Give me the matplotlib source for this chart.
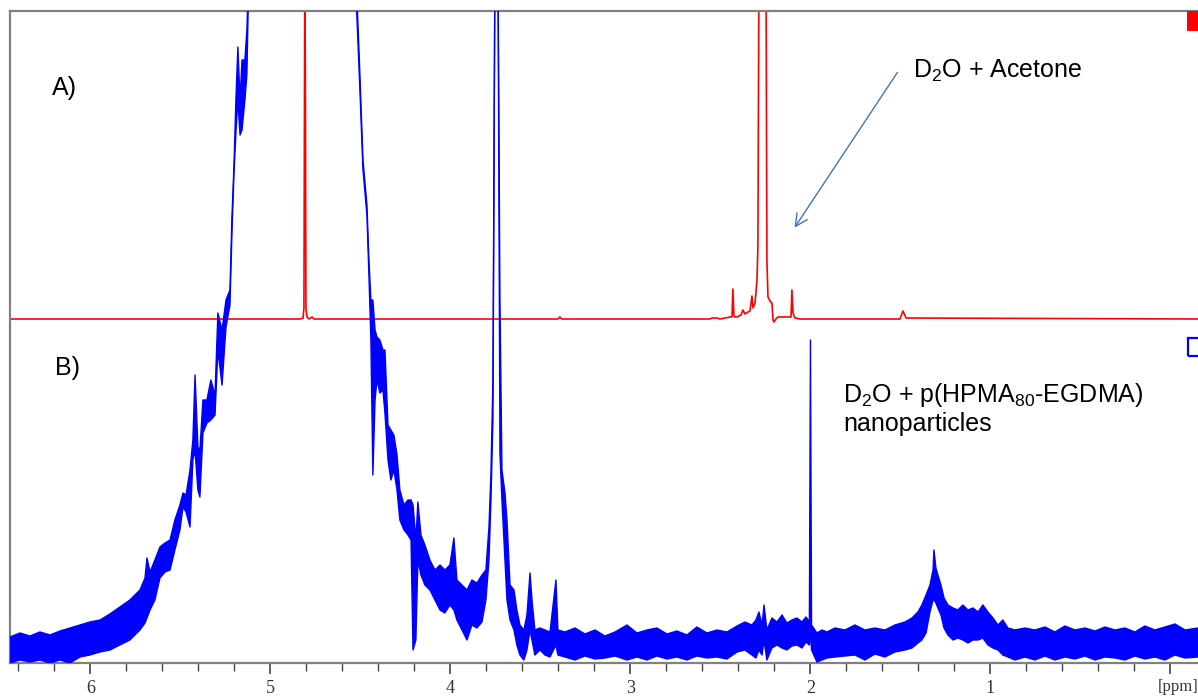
import matplotlib
matplotlib.use("Agg")
import matplotlib.pyplot as plt
from matplotlib.ticker import FixedLocator, MultipleLocator
from matplotlib.patches import Rectangle

plt.rcParams['font.family'] = ['Liberation Sans', 'DejaVu Sans']
plt.rcParams['mathtext.fontset'] = 'custom'
plt.rcParams['mathtext.rm'] = 'Liberation Sans'
plt.rcParams['mathtext.it'] = 'Liberation Sans:italic'

# Spectrum B: D2O + nanoparticles (noisy trace, stored as upper/lower envelope, a.u.)
blue_ppm = [6.447, 6.392, 6.336, 6.281, 6.225, 6.169, 6.114, 6.058, 6.003, 5.947,
            5.892, 5.836, 5.781, 5.725, 5.697, 5.686, 5.669, 5.642, 5.614, 5.586,
            5.558, 5.531, 5.503, 5.486, 5.469, 5.447, 5.431, 5.419, 5.403, 5.392,
            5.375, 5.353, 5.331, 5.308, 5.292, 5.269, 5.247, 5.225, 5.214, 5.203,
            5.192, 5.181, 5.169, 5.158, 5.142, 5.131, 5.119, 4.836, 4.531, 4.519,
            4.503, 4.486, 4.464, 4.453, 4.442, 4.431, 4.419, 4.408, 4.392, 4.375,
            4.364, 4.347, 4.331, 4.314, 4.297, 4.281, 4.258, 4.236, 4.219, 4.208,
            4.192, 4.181, 4.164, 4.142, 4.114, 4.086, 4.058, 4.031, 4.003, 3.981,
            3.964, 3.936, 3.908, 3.881, 3.853, 3.825, 3.803, 3.786, 3.775, 3.764,
            3.753, 3.736, 3.725, 3.714, 3.697, 3.686, 3.669, 3.647, 3.631, 3.614,
            3.592, 3.575, 3.558, 3.547, 3.531, 3.503, 3.475, 3.447, 3.414, 3.403,
            3.364, 3.308, 3.253, 3.197, 3.142, 3.086, 3.019, 2.964, 2.908, 2.853,
            2.797, 2.742, 2.686, 2.631, 2.575, 2.519, 2.464, 2.408, 2.364, 2.325,
            2.303, 2.286, 2.269, 2.258, 2.242, 2.214, 2.186, 2.158, 2.131, 2.103,
            2.075, 2.047, 2.025, 2.006, 2.000, 1.994, 1.964, 1.936, 1.908, 1.864,
            1.808, 1.753, 1.697, 1.642, 1.586, 1.531, 1.475, 1.436, 1.403, 1.381,
            1.358, 1.336, 1.319, 1.314, 1.303, 1.292, 1.275, 1.258, 1.236, 1.208,
            1.181, 1.153, 1.125, 1.097, 1.069, 1.042, 1.014, 0.986, 0.958, 0.931,
            0.903, 0.864, 0.808, 0.753, 0.697, 0.642, 0.586, 0.531, 0.475, 0.419,
            0.364, 0.308, 0.253, 0.197, 0.142, 0.086, 0.031, -0.025, -0.081, -0.153]
blue_hi = [26, 30, 27, 31, 28, 32, 35, 38, 41, 43,
           49, 56, 63, 73, 85, 105, 91, 103, 116, 120,
           123, 143, 158, 170, 168, 193, 223, 288, 216, 213,
           263, 263, 283, 268, 350, 333, 363, 373, 446, 496,
           563, 616, 563, 603, 603, 633, 700, 700, 700, 663,
           588, 503, 458, 403, 363, 363, 333, 326, 323, 313,
           313, 238, 233, 228, 208, 173, 158, 163, 163, 158,
           123, 161, 128, 118, 103, 93, 98, 93, 98, 125,
           83, 78, 73, 83, 80, 88, 93, 136, 190, 283,
           700, 700, 363, 193, 170, 143, 78, 73, 53, 38,
           33, 48, 90, 63, 33, 35, 33, 31, 83, 33,
           31, 35, 29, 33, 27, 31, 38, 30, 33, 35,
           29, 32, 28, 36, 30, 33, 31, 37, 41, 38,
           43, 51, 38, 58, 33, 45, 41, 48, 40, 43,
           45, 41, 46, 41, 323, 38, 30, 33, 31, 35,
           33, 38, 33, 35, 33, 38, 41, 45, 51, 58,
           68, 78, 93, 113, 95, 88, 78, 65, 58, 55,
           53, 58, 53, 55, 51, 58, 51, 45, 38, 43,
           35, 33, 35, 33, 36, 31, 37, 33, 35, 32,
           36, 33, 35, 31, 37, 33, 36, 39, 33, 35]
blue_lo = [0, 3, 1, 3, 0, 3, 0, 6, 8, 11,
           13, 18, 23, 33, 40, 45, 53, 63, 85, 91,
           93, 113, 133, 156, 151, 136, 203, 213, 173, 166,
           230, 240, 243, 248, 313, 278, 336, 358, 430, 488,
           530, 563, 528, 533, 563, 588, 700, 700, 700, 643,
           573, 493, 448, 388, 323, 188, 263, 283, 270, 273,
           250, 203, 183, 193, 173, 143, 133, 128, 123, 13,
           23, 103, 88, 78, 73, 63, 53, 50, 58, 53,
           43, 33, 23, 38, 35, 41, 63, 103, 163, 243,
           700, 700, 210, 163, 103, 63, 43, 33, 18, 8,
           3, 13, 33, 23, 8, 13, 8, 6, 18, 8,
           6, 3, 7, 4, 5, 7, 3, 6, 3, 7,
           4, 6, 3, 7, 5, 6, 4, 11, 13, 8,
           5, 13, 8, 23, 3, 15, 18, 15, 13, 17,
           18, 15, 21, 18, 33, 13, 1, 3, 5, 6,
           7, 8, 3, 9, 6, 11, 13, 15, 20, 23,
           30, 51, 63, 63, 60, 55, 48, 35, 28, 23,
           25, 23, 20, 23, 23, 25, 18, 15, 13, 8,
           6, 3, 6, 3, 7, 3, 6, 4, 7, 3,
           6, 5, 3, 7, 4, 6, 3, 8, 5, 6]

# Spectrum A: D2O + acetone (clean trace, a.u.)
red_ppm = [6.447, 4.836, 4.819, 4.814, 4.809, 4.806, 4.803, 4.797, 4.786, 4.769,
           4.758, 3.403, 3.392, 3.381, 2.558, 2.547, 2.519, 2.503, 2.447, 2.436,
           2.431, 2.425, 2.419, 2.408, 2.386, 2.375, 2.364, 2.347, 2.336, 2.325,
           2.319, 2.308, 2.297, 2.292, 2.286, 2.264, 2.247, 2.242, 2.236, 2.225,
           2.214, 2.208, 2.203, 2.192, 2.181, 2.114, 2.108, 2.103, 2.097, 2.086,
           2.058, 1.503, 1.486, 1.469, -0.153]
red_int = [344, 344, 345, 355, 700, 580, 355, 346, 344, 346,
           344, 344, 346, 344, 344, 345, 345, 344, 346, 346,
           374, 347, 346, 346, 348, 353, 349, 351, 352, 367,
           355, 360, 383, 416, 700, 700, 700, 403, 366, 362,
           360, 343, 341, 344, 346, 346, 346, 373, 350, 345,
           344, 344, 352, 345, 344]

major_ticks = [6, 5, 4, 3, 2, 1, 0]
tick_labels = ['6', '5', '4', '3', '2', '1', '']

fig = plt.figure(figsize=(11.98, 6.97), dpi=100)
ax = fig.add_axes([10 / 1198, 34 / 697, 1188 / 1198, 652 / 697])

ax.plot(red_ppm, red_int, color='#ff0000', lw=1.2, zorder=2)
ax.fill_between(blue_ppm, blue_lo, blue_hi, color='#0000ff', lw=0, zorder=3)
ax.plot(blue_ppm, blue_hi, color='#0000ff', lw=1.0, zorder=3)
ax.plot(blue_ppm, blue_lo, color='#0000ff', lw=1.0, zorder=3)

ax.set_xlim(6.447, -0.153)
ax.set_ylim(0, 652)
ax.set_yticks([])

ax.xaxis.set_major_locator(FixedLocator(major_ticks))
ax.set_xticklabels(tick_labels, family='Liberation Serif', fontsize=13, color='#333333')
ax.xaxis.set_minor_locator(MultipleLocator(0.2))
ax.tick_params(axis='x', which='major', direction='out', length=8, width=1.2,
               color='#444444', pad=4)
ax.tick_params(axis='x', which='minor', direction='out', length=5.5, width=1.0,
               color='#444444')
# axis unit sits where the 0 ppm label would be
ax.text(0.07, -0.037, '[ppm]', transform=ax.get_xaxis_transform(),
        family='Liberation Serif', fontsize=12, color='#333333', ha='left', va='center')

for side in ['left', 'top', 'bottom']:
    ax.spines[side].set_color('#808080')
    ax.spines[side].set_linewidth(1.6)
ax.spines['right'].set_visible(False)

# spectrum markers at the right edge
ax.add_patch(Rectangle((0.9907, 0.969), 0.012, 0.031, transform=ax.transAxes,
                       facecolor='#ff0000', edgecolor='none', clip_on=False, zorder=5))
ax.add_patch(Rectangle((0.9916, 0.471), 0.012, 0.027, transform=ax.transAxes,
                       facecolor='none', edgecolor='#0000ff', lw=1.6, clip_on=False, zorder=5))

ax.text(6.214, 575, 'A)', fontsize=18, ha='left', va='center')
ax.text(6.197, 295, 'B)', fontsize=18, ha='left', va='center')

ax.annotate('', xy=(2.097, 433), xytext=(1.508, 593),
            arrowprops=dict(arrowstyle='->', color='#4472c4', lw=1.0, mutation_scale=22))
ax.text(1.431, 585, r'D$_2$O + Acetone', fontsize=18, ha='left', va='baseline')
ax.text(1.819, 261, r'D$_2$O + p(HPMA$_{80}$-EGDMA)', fontsize=18, ha='left', va='baseline')
ax.text(1.819, 232, 'nanoparticles', fontsize=18, ha='left', va='baseline')

fig.savefig('out.png', dpi=100)
